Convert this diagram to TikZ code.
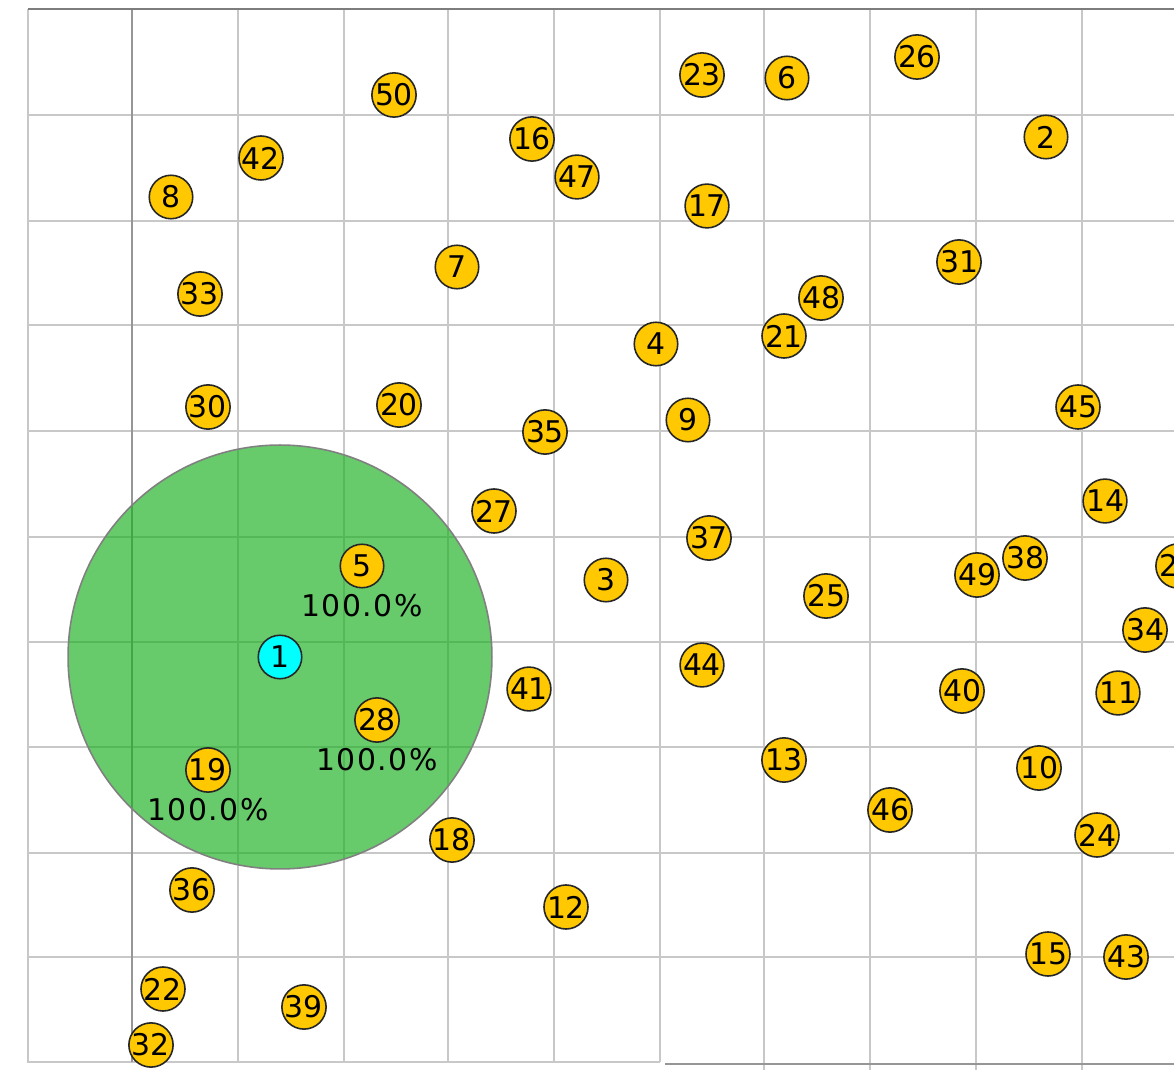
\documentclass[tikz,border=0pt]{standalone}
\usepackage{fontspec}
\setmainfont{DejaVu Sans}
\usepackage{xcolor}
\usepackage{tikz}
\usetikzlibrary{positioning}
\definecolor{GridGray}{RGB}{200,200,200}
\definecolor{AxisGray}{RGB}{150,150,150}
\definecolor{EdgeGray}{RGB}{125,125,125}
\definecolor{NodeGold}{RGB}{255,200,0}
\definecolor{NodeCyan}{RGB}{0,255,255}
\definecolor{RangeGreen}{RGB}{20,175,25}
\tikzset{
  gridline/.style={draw=GridGray,line width=1.1pt},
  axisline/.style={draw=AxisGray,line width=1.1pt},
  borderline/.style={draw=EdgeGray,line width=1.5pt},
  sensor/.style={circle,draw=black!85,line width=0.9pt,fill=NodeGold,minimum size=0.87cm,
    inner sep=0pt,font=\fontsize{17}{19}\selectfont},
  sourcenode/.style={sensor,fill=NodeCyan},
  rangedisk/.style={fill=RangeGreen,fill opacity=0.64,draw=gray,line width=0.9pt},
  share/.style={inner sep=0pt,font=\fontsize{17}{19}\selectfont\addfontfeature{LetterSpace=5}}
}
\begin{document}
\begin{tikzpicture}[x=0.02cm,y=-0.02cm]
  \path[use as bounding box,fill=white] (0,0) rectangle (1174,1070);
  \clip (0,0) rectangle (1174,1070);
  \foreach \gx in {238,344,448,554,660} \draw[gridline] (\gx,9) -- (\gx,1062);
  \foreach \gx in {764,870,976,1082} \draw[gridline] (\gx,9) -- (\gx,1070);
  \foreach \gy in {115,221,325,431,537,642,747,853,957} \draw[gridline] (28,\gy) -- (1174,\gy);
  \draw[gridline] (28,9) -- (28,1062) -- (660,1062);
  \draw[axisline] (132,9) -- (132,1062);
  \draw[axisline] (665,1064) -- (1174,1064);
  \draw[borderline] (28,9) -- (1174,9);
  \coordinate (c1) at (280,657);
  \draw[rangedisk] (c1) circle[radius=4.24cm];
  \node[sourcenode] (n1) at (c1) {1};
  \node[sensor] (n2) at (1046,137) {2};
  \node[sensor] (n3) at (606,580) {3};
  \node[sensor] (n4) at (656,344) {4};
  \node[sensor] (n5) at (362,566) {5};
  \node[sensor] (n6) at (787,78) {6};
  \node[sensor] (n7) at (457,267) {7};
  \node[sensor] (n8) at (171,197) {8};
  \node[sensor] (n9) at (688,420) {9};
  \node[sensor] (n10) at (1039,768) {10};
  \node[sensor] (n11) at (1118,693) {11};
  \node[sensor] (n12) at (566,907) {12};
  \node[sensor] (n13) at (784,760) {13};
  \node[sensor] (n14) at (1105,501) {14};
  \node[sensor] (n15) at (1048,954) {15};
  \node[sensor] (n16) at (532,139) {16};
  \node[sensor] (n17) at (707,206) {17};
  \node[sensor] (n18) at (452,840) {18};
  \node[sensor] (n19) at (208,770) {19};
  \node[sensor] (n20) at (399,405) {20};
  \node[sensor] (n21) at (784,336) {21};
  \node[sensor] (n22) at (163,989) {22};
  \node[sensor] (n23) at (702,75) {23};
  \node[sensor] (n24) at (1097,835) {24};
  \node[sensor] (n25) at (826,596) {25};
  \node[sensor] (n26) at (917,57) {26};
  \node[sensor] (n27) at (494,511) {27};
  \node[sensor] (n28) at (377,720) {28};
  \node[sensor] (n29) at (1178,566) {29};
  \node[sensor] (n30) at (208,407) {30};
  \node[sensor] (n31) at (959,262) {31};
  \node[sensor] (n32) at (151,1045) {32};
  \node[sensor] (n33) at (200,294) {33};
  \node[sensor] (n34) at (1145,630) {34};
  \node[sensor] (n35) at (545,432) {35};
  \node[sensor] (n36) at (192,890) {36};
  \node[sensor] (n37) at (709,538) {37};
  \node[sensor] (n38) at (1025,558) {38};
  \node[sensor] (n39) at (304,1007) {39};
  \node[sensor] (n40) at (962,691) {40};
  \node[sensor] (n41) at (529,689) {41};
  \node[sensor] (n42) at (261,158) {42};
  \node[sensor] (n43) at (1126,957) {43};
  \node[sensor] (n44) at (702,665) {44};
  \node[sensor] (n45) at (1078,407) {45};
  \node[sensor] (n46) at (890,810) {46};
  \node[sensor] (n47) at (577,177) {47};
  \node[sensor] (n48) at (821,298) {48};
  \node[sensor] (n49) at (977,575) {49};
  \node[sensor] (n50) at (394,95) {50};
  \node[share,below=0.1cm of n5] (p5) {100.0\%};
  \node[share,below=0.1cm of n28] (p28) {100.0\%};
  \node[share,below=0.1cm of n19] (p19) {100.0\%};
\end{tikzpicture}
\end{document}
